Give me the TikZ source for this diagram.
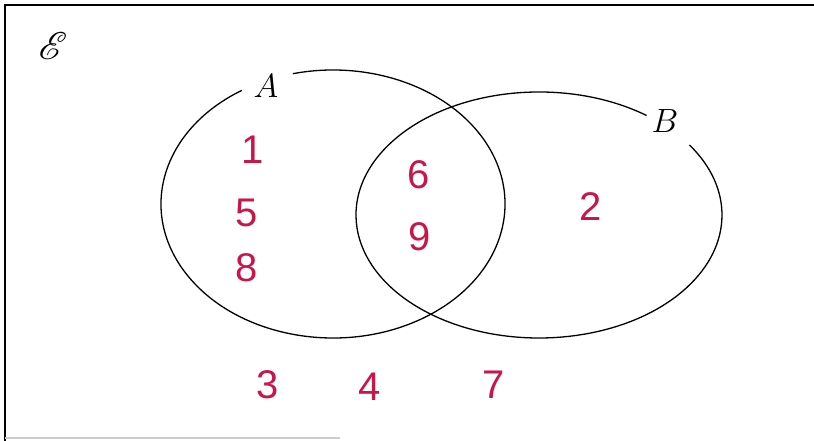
\documentclass[tikz,border=0pt]{standalone}
\usepackage{fontspec}
\usepackage{mathrsfs}
\setsansfont{Liberation Sans}
\definecolor{ink}{RGB}{200,22,72}
\tikzset{
  num/.style={text=ink, font=\fontsize{40}{40}\sffamily, inner sep=0pt},
  setlab/.style={font=\fontsize{24}{24}\selectfont, inner sep=0pt},
  curve/.style={line width=1.3pt, black}
}
\begin{document}
\begin{tikzpicture}[x=1pt,y=1pt]
\useasboundingbox (0,0) rectangle (814,441);
% frame
\draw[line width=2pt] (5,0) -- (5,436) -- (814,436);
\draw[gray!40, line width=1.2pt] (5,3) -- (340,3);
% universal set
\node[font=\fontsize{24}{24}\selectfont, inner sep=0pt] (U) at (53,395) {\scalebox{1.55}{$\mathscr{E}$}};
% ellipses with gaps for labels
\coordinate (cA) at (333,237);
\coordinate (cB) at (539,226);
\draw[curve] ([shift={(cA)}]122:172 and 134) arc[start angle=122, end angle=463.5, x radius=172, y radius=134];
\draw[curve] ([shift={(cB)}]54:183 and 123) arc[start angle=54, end angle=394.7, x radius=183, y radius=123];
\node[setlab] (A) at (266,355) {\scalebox{1.35}{$A$}};
\node[setlab] (B) at (665,320) {\scalebox{1.35}{$B$}};
% elements
\node[num] (n1) at (253,291) {1};
\node[num] (n5) at (247,228) {5};
\node[num] (n8) at (247,173) {8};
\node[num] (n6) at (419,266) {6};
\node[num] (n9) at (420,204) {9};
\node[num] (n2) at (591,234) {2};
\node[num] (n3) at (268,56) {3};
\node[num] (n4) at (370,54) {4};
\node[num] (n7) at (494,56) {7};
\end{tikzpicture}
\end{document}
